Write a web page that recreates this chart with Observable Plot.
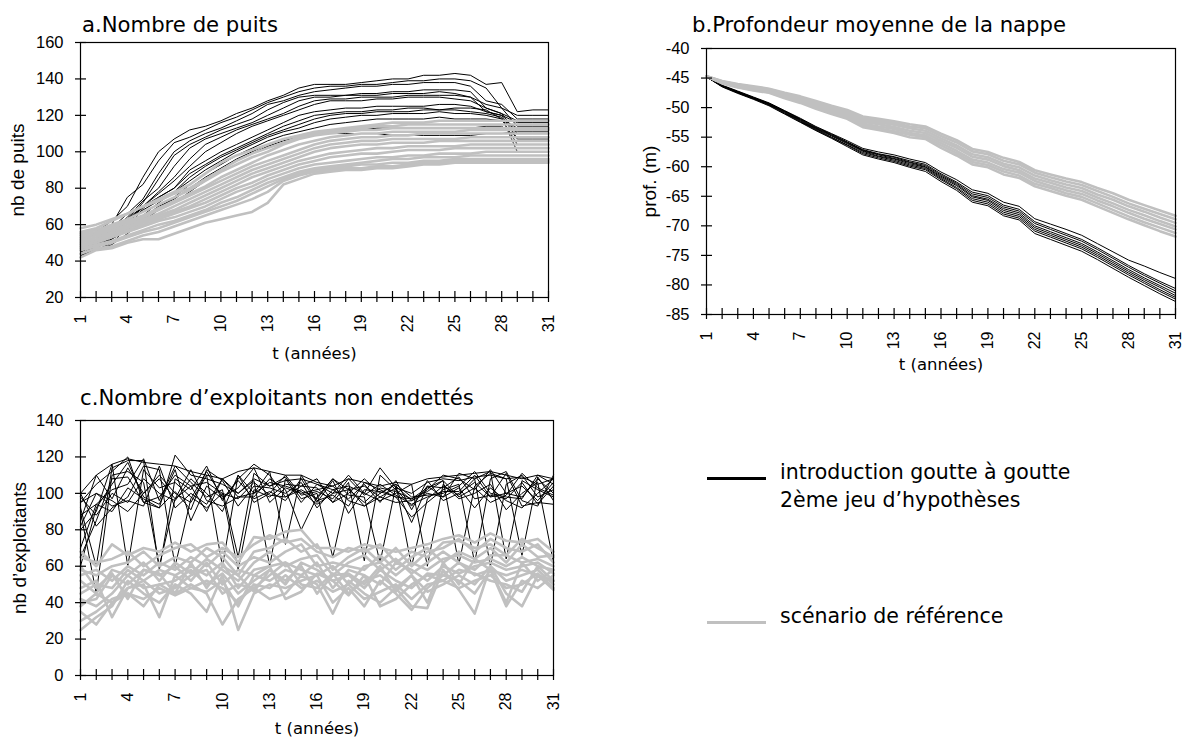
<!DOCTYPE html>
<html><head><meta charset="utf-8">
<script src="https://cdn.jsdelivr.net/npm/d3@7"></script>
<script src="https://cdn.jsdelivr.net/npm/@observablehq/plot@0.6"></script>
<style>
html,body{margin:0;padding:0;background:#fff;}
#page{position:relative;width:1184px;height:740px;overflow:hidden;font-family:"DejaVu Sans",sans-serif;color:#000;}
.title{position:absolute;font-size:21.2px;line-height:1;white-space:nowrap;}
.leg-line{position:absolute;height:3px;width:59px;}
.leg-text{position:absolute;font-size:20.5px;line-height:28px;white-space:nowrap;}
</style></head><body><div id="page"></div><script>
const years = [1,2,3,4,5,6,7,8,9,10,11,12,13,14,15,16,17,18,19,20,21,22,23,24,25,26,27,28,29,30,31];
const yearLabels = [1,4,7,10,13,16,19,22,25,28,31];

const titles = ["a.Nombre de puits", "b.Profondeur moyenne de la nappe", "c.Nombre d\u2019exploitants non endett\u00e9s"];
const xTitle = "t (ann\u00e9es)";
const yTitles = ["nb de puits", "prof. (m)", "nb d\u2019exploitants"];
const legendLabels = ["introduction goutte \u00e0 goutte\n2\u00e8me jeu d\u2019hypoth\u00e8ses", "sc\u00e9nario de r\u00e9f\u00e9rence"];

const yTicksA = [20,40,60,80,100,120,140,160];
const yTicksB = [-40,-45,-50,-55,-60,-65,-70,-75,-80,-85];
const yTicksC = [0,20,40,60,80,100,120,140];

// a. Nombre de puits — drip irrigation (black)
const wellsDrip = [
[50,56,62,70,86,100,107,112,114,117,121,124,128,131,135,137,137,137,138,139,140,140,142,142,143,142,137,138,122,123,123],
[47,52,60,75,82,95,105,108,112,116,119,123,127,130,133,135,136,136,137,137,138,139,139,140,140,139,135,124,120,120,120],
[45,50,58,66,74,88,100,106,110,113,117,121,126,128,131,133,134,135,136,136,137,137,138,138,138,136,128,126,118,118,118],
[44,48,55,63,72,85,98,104,108,112,115,118,123,127,130,131,131,131,132,132,133,133,134,134,134,133,124,121,117,117,117],
[46,51,57,64,73,80,92,102,107,110,113,116,120,124,128,130,130,131,131,131,132,132,132,133,132,130,122,120,116,116,116],
[43,47,52,60,70,78,86,96,104,108,112,115,118,121,125,128,129,129,130,130,130,131,131,131,131,130,126,124,114,114,114],
[45,49,54,62,70,77,84,92,100,105,110,114,117,120,123,126,128,128,128,129,129,130,130,130,129,128,124,121,110,110,110],
[43,46,50,58,69,75,80,90,95,100,104,108,112,116,120,122,123,124,124,125,125,125,125,126,126,125,122,120,107,107,107],
[48,52,56,63,70,75,80,88,93,98,102,106,110,114,117,120,121,122,122,123,123,124,124,123,124,124,123,118,104,104,104],
[44,48,53,58,65,72,78,86,92,97,101,105,109,112,115,118,120,121,121,122,122,122,123,123,123,122,121,119,100,100,100],
[52,55,58,62,68,73,78,84,90,95,100,104,108,111,113,116,118,119,120,120,121,121,121,122,121,121,120,118,113,113,113],
[45,49,52,57,63,69,75,82,88,93,98,102,106,109,111,113,115,116,117,118,118,118,118,119,118,118,118,117,112,112,112],
[47,50,54,58,64,70,74,80,86,91,96,100,104,107,109,110,110,110,110,110,109,109,109,109,109,109,110,110,111,111,111],
[43,46,49,55,62,68,72,78,84,90,95,99,103,106,108,110,111,112,112,113,113,113,113,113,113,113,114,114,108,108,108]
];
// a. Nombre de puits — reference scenario (grey)
const wellsRef = [
[58,60,63,66,70,74,78,82,88,94,98,101,104,107,109,111,112,113,114,115,116,116,116,117,117,117,117,117,117,117,117],
[56,58,62,66,70,73,77,80,85,90,95,99,102,105,108,110,111,112,113,114,114,115,115,115,115,115,115,115,115,115,115],
[55,57,60,63,67,71,75,79,84,89,93,97,100,104,107,109,110,111,112,112,113,113,113,113,113,113,113,113,113,113,113],
[54,56,59,62,65,69,73,77,81,86,90,94,98,101,104,106,108,109,110,110,111,111,111,111,111,112,112,112,112,112,112],
[53,55,58,61,64,68,72,76,80,84,88,92,95,98,101,104,106,107,108,108,109,109,110,110,110,110,110,110,110,110,110],
[52,54,57,60,63,66,70,74,78,82,86,90,93,96,99,102,104,105,106,106,107,107,107,107,107,108,108,108,108,108,108],
[51,53,56,59,62,65,68,72,76,80,84,88,91,94,97,100,102,103,104,104,105,105,105,106,106,106,106,106,106,106,106],
[50,52,55,58,61,64,67,70,74,78,82,86,89,92,95,97,99,100,101,102,102,103,103,103,103,104,104,104,104,104,104],
[49,51,54,57,60,63,66,69,72,76,80,83,87,90,93,95,97,98,99,99,100,101,101,101,102,102,102,102,102,102,102],
[48,50,53,56,59,62,64,67,70,74,78,81,85,88,91,93,94,95,96,97,97,98,98,99,99,99,100,100,100,100,100],
[47,49,51,54,57,60,62,65,68,72,75,79,83,86,89,91,92,93,94,95,96,96,97,97,97,98,98,98,98,98,98],
[46,48,50,53,56,58,61,64,67,70,73,77,81,85,88,90,91,92,93,93,94,94,95,95,96,96,96,96,96,96,96],
[44,47,48,51,54,56,59,62,65,68,71,74,78,84,87,89,90,91,91,92,92,93,94,94,95,95,95,95,95,95,95],
[42,46,47,50,52,52,55,58,61,63,65,67,72,82,85,88,89,90,90,91,91,92,93,93,94,94,94,94,94,94,94]
];

// b. Profondeur moyenne de la nappe — drip (black)
const depthDrip = [
[-44.8,-46.2,-47.2,-48.2,-49.2,-50.5,-51.8,-53.2,-54.4,-55.6,-56.9,-57.5,-58.0,-58.7,-59.3,-60.9,-62.2,-63.9,-64.5,-66.0,-66.7,-68.8,-69.7,-70.6,-71.6,-73.0,-74.4,-75.8,-76.8,-77.9,-78.9],
[-44.8,-46.3,-47.3,-48.3,-49.3,-50.6,-51.9,-53.3,-54.5,-55.8,-57.1,-57.8,-58.3,-59.0,-59.6,-61.2,-62.6,-64.3,-64.9,-66.5,-67.2,-69.3,-70.3,-71.3,-72.3,-73.7,-75.2,-76.7,-78.1,-79.4,-80.6],
[-44.8,-46.3,-47.3,-48.3,-49.3,-50.6,-52.0,-53.4,-54.6,-55.9,-57.2,-57.9,-58.4,-59.2,-59.8,-61.4,-62.8,-64.6,-65.2,-66.8,-67.5,-69.6,-70.6,-71.6,-72.6,-74.0,-75.5,-77.0,-78.4,-79.7,-81.0],
[-44.8,-46.3,-47.4,-48.4,-49.4,-50.7,-52.1,-53.5,-54.7,-56.0,-57.3,-58.0,-58.6,-59.3,-60.0,-61.6,-63.0,-64.9,-65.5,-67.1,-67.8,-70.0,-71.0,-72.0,-73.0,-74.4,-75.9,-77.4,-78.8,-80.1,-81.4],
[-44.8,-46.4,-47.4,-48.4,-49.4,-50.8,-52.2,-53.6,-54.8,-56.1,-57.4,-58.2,-58.7,-59.5,-60.1,-61.8,-63.2,-65.1,-65.7,-67.4,-68.1,-70.3,-71.3,-72.3,-73.3,-74.7,-76.2,-77.7,-79.1,-80.4,-81.8],
[-44.8,-46.4,-47.5,-48.5,-49.5,-50.9,-52.3,-53.7,-55.0,-56.3,-57.6,-58.3,-58.9,-59.7,-60.3,-62.0,-63.5,-65.4,-66.0,-67.7,-68.4,-70.6,-71.6,-72.6,-73.6,-75.0,-76.5,-78.0,-79.4,-80.8,-82.1],
[-44.8,-46.4,-47.5,-48.5,-49.6,-51.0,-52.4,-53.8,-55.1,-56.4,-57.8,-58.5,-59.1,-59.9,-60.5,-62.2,-63.7,-65.7,-66.3,-68.0,-68.7,-70.9,-71.9,-72.9,-73.9,-75.3,-76.8,-78.3,-79.7,-81.1,-82.4],
[-44.8,-46.5,-47.6,-48.6,-49.7,-51.1,-52.5,-53.9,-55.2,-56.6,-58.0,-58.7,-59.3,-60.1,-60.8,-62.5,-64.0,-66.0,-66.6,-68.3,-69.0,-71.3,-72.3,-73.3,-74.3,-75.7,-77.2,-78.7,-80.1,-81.5,-82.8]
];
// b. Profondeur moyenne de la nappe — reference (grey)
const depthRef = [
[-44.7,-45.5,-46.0,-46.4,-46.8,-47.5,-48.1,-48.9,-49.7,-50.4,-51.5,-51.9,-52.3,-52.8,-53.2,-54.4,-55.5,-57.0,-57.5,-58.5,-59.2,-60.6,-61.3,-62.0,-62.6,-63.6,-64.5,-65.6,-66.5,-67.4,-68.3],
[-44.7,-45.6,-46.1,-46.5,-46.9,-47.6,-48.3,-49.1,-49.9,-50.7,-51.8,-52.2,-52.6,-53.2,-53.5,-54.8,-55.9,-57.4,-57.9,-59.0,-59.6,-61.0,-61.8,-62.5,-63.1,-64.1,-65.1,-66.2,-67.1,-68.0,-68.9],
[-44.7,-45.6,-46.2,-46.6,-47.0,-47.8,-48.5,-49.3,-50.2,-50.9,-52.1,-52.5,-52.9,-53.5,-53.9,-55.2,-56.4,-57.9,-58.4,-59.5,-60.1,-61.5,-62.3,-63.0,-63.6,-64.7,-65.6,-66.7,-67.6,-68.6,-69.5],
[-44.7,-45.7,-46.3,-46.8,-47.1,-47.9,-48.6,-49.5,-50.4,-51.1,-52.4,-52.8,-53.3,-53.9,-54.3,-55.6,-56.8,-58.3,-58.8,-59.9,-60.6,-62.0,-62.7,-63.5,-64.1,-65.2,-66.2,-67.3,-68.2,-69.2,-70.1],
[-44.7,-45.8,-46.4,-46.9,-47.3,-48.1,-48.8,-49.8,-50.6,-51.4,-52.7,-53.2,-53.6,-54.3,-54.7,-56.0,-57.3,-58.8,-59.3,-60.4,-61.0,-62.4,-63.2,-64.0,-64.6,-65.7,-66.7,-67.8,-68.8,-69.7,-70.6],
[-44.7,-45.8,-46.5,-47.0,-47.4,-48.3,-49.0,-50.0,-50.9,-51.6,-53.0,-53.5,-54.0,-54.6,-55.0,-56.4,-57.7,-59.2,-59.7,-60.8,-61.5,-62.9,-63.6,-64.5,-65.1,-66.2,-67.3,-68.4,-69.4,-70.3,-71.2],
[-44.7,-45.9,-46.6,-47.1,-47.5,-48.4,-49.2,-50.2,-51.1,-51.9,-53.3,-53.8,-54.3,-55.0,-55.3,-56.8,-58.1,-59.6,-60.1,-61.3,-61.9,-63.3,-64.1,-64.9,-65.6,-66.7,-67.8,-68.9,-69.9,-70.9,-71.8]
];

// c. Nombre d'exploitants non endettés — drip (black)
const farmersDrip = [
[100,110,116,119,117,116,115,112,110,108,112,114,112,110,110,106,104,108,106,104,106,105,108,109,110,111,112,110,108,110,105],
[95,105,112,120,95,92,121,110,108,105,100,108,104,107,108,105,102,104,100,114,103,100,106,108,107,109,110,108,109,105,108],
[92,60,114,118,118,58,108,102,115,96,108,116,110,98,102,97,108,99,98,62,104,96,102,110,108,102,113,100,98,108,100],
[88,94,102,105,119,96,115,106,98,102,65,111,104,109,97,100,65,103,93,100,105,60,97,104,99,108,112,64,107,102,98],
[85,110,97,114,100,110,100,95,110,60,110,100,112,72,110,96,99,93,106,102,98,87,95,102,105,62,108,112,96,93,110],
[80,90,116,60,113,103,106,98,92,100,58,102,98,105,104,103,95,106,63,110,102,93,104,98,111,108,60,105,110,98,102],
[60,92,105,117,98,94,113,85,104,97,107,97,101,96,108,95,107,89,102,101,98,97,101,107,61,104,111,108,66,109,96],
[100,82,92,98,115,113,60,97,112,98,103,114,95,103,100,102,104,96,93,98,103,84,104,103,109,97,99,97,106,94,104],
[90,45,110,112,106,60,97,104,90,108,100,107,60,108,95,105,100,110,100,96,100,105,60,105,97,100,105,91,100,106,62],
[82,100,96,90,100,108,97,113,96,93,98,98,108,102,80,98,108,102,104,98,95,96,100,98,103,92,103,96,92,100,108],
[70,94,90,103,97,92,101,91,113,107,93,104,103,100,106,92,102,97,105,95,107,91,107,96,100,106,98,111,93,95,94],
[98,88,100,95,108,100,96,108,100,90,110,95,100,110,99,101,97,108,99,105,99,94,98,101,101,110,98,100,104,96,106],
[95,100,93,96,93,115,92,100,94,108,98,100,106,104,101,94,100,102,95,103,101,97,103,107,98,103,95,99,111,103,99],
[65,85,108,109,95,98,110,104,106,100,97,106,99,98,104,108,95,100,108,100,105,98,99,100,104,112,100,98,97,110,108]
];
// c. Nombre d'exploitants non endettés — reference (grey)
const farmersRef = [
[68,60,72,66,70,68,73,68,72,73,62,76,75,79,80,70,70,68,72,70,68,70,72,75,77,73,78,74,73,75,68],
[65,62,64,68,60,66,70,72,65,70,65,72,77,73,75,68,65,70,68,72,62,68,65,73,74,70,72,66,75,70,65],
[58,55,60,62,68,60,65,62,70,65,55,68,70,75,68,72,58,65,70,62,70,60,68,70,75,68,75,70,68,72,62],
[55,58,52,60,55,62,58,65,60,68,60,65,62,68,72,60,62,60,58,66,58,65,70,62,68,64,70,62,72,65,66],
[52,45,58,55,62,52,62,56,64,58,52,62,68,60,64,66,55,62,66,58,64,56,62,68,62,58,66,66,62,64,60],
[45,50,48,58,52,58,55,60,55,62,48,58,60,62,58,55,60,50,60,62,55,62,58,64,66,62,64,60,65,60,58],
[40,42,55,50,58,55,60,52,62,50,58,55,52,58,55,62,48,58,55,50,62,58,52,60,56,60,62,58,60,62,56],
[42,38,45,55,48,50,52,58,50,56,45,52,58,50,62,58,52,55,48,58,52,48,56,55,62,55,58,55,58,55,52],
[38,45,40,48,52,45,48,55,58,45,50,48,55,62,50,48,56,45,52,55,48,55,46,50,55,50,60,52,55,58,50],
[30,35,42,45,42,48,44,48,52,48,40,50,48,55,48,52,46,50,42,46,50,42,50,52,48,52,55,48,50,56,48],
[25,32,38,52,45,40,50,45,35,55,25,45,50,48,52,55,40,48,38,52,45,36,48,55,52,45,58,38,52,48,55],
[35,28,40,45,38,50,45,50,45,28,42,48,42,45,55,50,34,52,45,40,48,38,37,58,47,34,60,45,38,55,47],
[48,52,32,48,50,32,55,48,46,52,38,55,60,42,46,56,52,44,55,38,42,50,55,52,58,56,52,50,46,60,52],
[60,48,56,42,58,56,45,62,48,60,55,46,58,52,60,45,55,56,50,60,46,55,40,62,50,64,58,40,62,52,58]
];

function toLong(series) {
  const out = [];
  series.forEach((vals, s) => vals.forEach((v, i) => out.push({s, t: years[i], v})));
  return out;
}

function panel(cfg) {
  const svg = Plot.plot({
    width: cfg.width, height: cfg.height,
    marginTop: cfg.mt, marginRight: cfg.mr, marginBottom: cfg.mb, marginLeft: cfg.ml,
    x: {domain: [1, 31]},
    y: {domain: cfg.yDomain},
    style: {fontFamily: "'Liberation Sans', Arial, sans-serif", fontSize: "16px", background: "transparent", color: "#000", overflow: "visible"},
    marks: [
      Plot.line(toLong(cfg.black), {x: "t", y: "v", z: "s", stroke: "#000", strokeWidth: 1}),
      Plot.line(toLong(cfg.gray), {x: "t", y: "v", z: "s", stroke: "#c0c0c0", strokeWidth: 2.6}),
      Plot.frame({stroke: "#000", strokeWidth: 1.2}),
      Plot.axisX(years, {tickSize: 11, dy: -6, tickFormat: () => "", label: null, strokeWidth: 1.2}),
      Plot.axisX(yearLabels, {tickSize: 0, tickPadding: 17, tickRotate: -90, fontSize: 16, tickFormat: d => String(d), label: null}),
      Plot.axisX([], {tickSize: 0, label: xTitle, labelAnchor: "center", labelOffset: cfg.xLabelOffset, labelArrow: "none", fontFamily: "'DejaVu Sans', sans-serif", fontSize: 16.5}),
      Plot.axisY(cfg.yTicks, {tickSize: 11, dx: 6, tickFormat: () => "", label: null, strokeWidth: 1.2}),
      Plot.axisY(cfg.yTicks, {tickSize: 0, tickPadding: 17, fontSize: 16.5, tickFormat: d => String(d), label: null}),
      Plot.axisY([], {tickSize: 0, label: cfg.yTitle, labelAnchor: "center", labelOffset: cfg.yLabelOffset, labelArrow: "none", fontSize: 19})
    ]
  });
  svg.style.position = "absolute";
  svg.style.left = cfg.left + "px";
  svg.style.top = cfg.top + "px";
  return svg;
}

const page = document.getElementById("page");
page.appendChild(panel({left: 0, top: 0, width: 580, height: 372, mt: 42, mr: 32, mb: 75, ml: 80,
  yDomain: [20, 160], yTicks: yTicksA, black: wellsDrip, gray: wellsRef, yTitle: yTitles[0], yLabelOffset: 70, xLabelOffset: 61}));
page.appendChild(panel({left: 600, top: 0, width: 584, height: 380, mt: 48, mr: 9, mb: 66, ml: 106,
  yDomain: [-85, -40], yTicks: yTicksB, black: depthDrip, gray: depthRef, yTitle: yTitles[1], yLabelOffset: 64, xLabelOffset: 55}));
page.appendChild(panel({left: 0, top: 380, width: 580, height: 360, mt: 40, mr: 27, mb: 65, ml: 80,
  yDomain: [0, 140], yTicks: yTicksC, black: farmersDrip, gray: farmersRef, yTitle: yTitles[2], yLabelOffset: 68, xLabelOffset: 58}));

function addDiv(cls, text, left, top, extra) {
  const d = document.createElement("div");
  d.className = cls;
  d.textContent = text;
  d.style.left = left + "px";
  d.style.top = top + "px";
  if (extra) Object.assign(d.style, extra);
  page.appendChild(d);
  return d;
}
addDiv("title", titles[0], 82, 14.2);
addDiv("title", titles[1], 692, 14.2);
addDiv("title", titles[2], 80, 387.2);

addDiv("leg-line", "", 707, 477, {background: "#000"});
addDiv("leg-line", "", 707, 621, {background: "#c0c0c0"});
addDiv("leg-text", legendLabels[0], 780, 457.9, {whiteSpace: "pre"});
addDiv("leg-text", legendLabels[1], 780, 601.9);
</script></body></html>
